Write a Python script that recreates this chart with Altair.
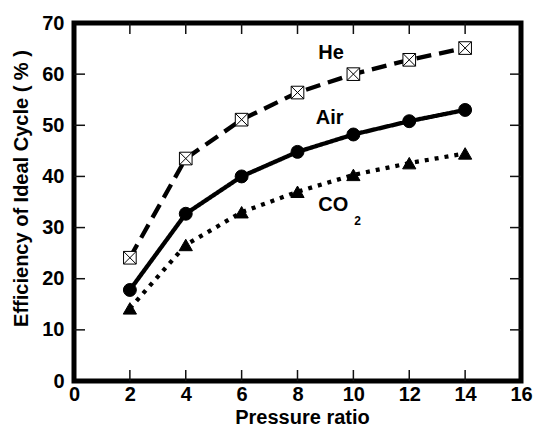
import altair as alt
import pandas as pd

pressure_ratio = [2, 4, 6, 8, 10, 12, 14]
he_eff = [24.1, 43.5, 51.1, 56.4, 60.0, 62.8, 65.1]
air_eff = [17.8, 32.7, 40.0, 44.8, 48.2, 50.8, 53.0]
co2_eff = [14.2, 26.6, 33.0, 37.0, 40.3, 42.6, 44.5]
series_names = ["He", "Air", "CO2"]

x_ticks = [2, 4, 6, 8, 10, 12, 14]
y_ticks = [10, 20, 30, 40, 50, 60]

label_text = ["He", "Air", "CO"]
label_x = [9.2, 9.15, 9.28]
label_y = [64.1, 51.4, 34.4]
sub_text = ["2"]
sub_x = [10.15]
sub_y = [31.3]

rows = []
for name, vals in zip(series_names, [he_eff, air_eff, co2_eff]):
    for xv, yv in zip(pressure_ratio, vals):
        rows.append({"series": name, "x": xv, "y": yv})
df = pd.DataFrame(rows)

W, H = 447, 358
FONT = "Liberation Sans"

xscale = alt.Scale(domain=[0, 16], nice=False, zero=False)
yscale = alt.Scale(domain=[0, 70], nice=False, zero=False)

xenc = alt.X("x:Q", scale=xscale, axis=alt.Axis(
    values=list(range(0, 17, 2)), title="Pressure ratio", grid=False, domain=False,
    tickSize=0, labelPadding=3, labelFlush=False, labelFont=FONT, labelFontSize=20,
    labelFontWeight="bold", labelColor="black", titleFont=FONT, titleFontSize=20,
    titleFontWeight="bold", titleColor="black", titleX=228, titleY=42,
    titleBaseline="alphabetic", titleAlign="center"))
yenc = alt.Y("y:Q", scale=yscale, axis=alt.Axis(
    values=list(range(0, 71, 10)), title="Efficiency of Ideal Cycle ( % )", grid=False,
    domain=False, tickSize=0, labelPadding=10, labelFont=FONT, labelFontSize=20,
    labelFontWeight="bold", labelColor="black", titleFont=FONT, titleFontSize=20,
    titleFontWeight="bold", titleColor="black", titleX=-47, titleY=165,
    titleBaseline="alphabetic", titleAlign="center", titleAngle=270))

base = alt.Chart(df)

lines = base.mark_line(color="black", strokeWidth=4.3, interpolate="linear", strokeCap="butt").encode(
    x=xenc, y=yenc,
    strokeDash=alt.StrokeDash("series:N", scale=alt.Scale(domain=series_names,
                              range=[[15, 8], [1, 0], [4, 6]]), legend=None),
    detail="series:N",
)

box_x = "M-1,-1L1,-1L1,1L-1,1Z M-1,-1L1,1 M1,-1L-1,1"
points = base.mark_point(stroke="black", strokeWidth=1, opacity=1, filled=False).encode(
    x="x:Q", y="y:Q",
    shape=alt.Shape("series:N", scale=alt.Scale(domain=series_names,
                    range=[box_x, "circle", "triangle-up"]), legend=None),
    fill=alt.Fill("series:N", scale=alt.Scale(domain=series_names,
                  range=["white", "black", "black"]), legend=None),
    size=alt.Size("series:N", scale=alt.Scale(domain=series_names,
                  range=[160, 175, 225]), legend=None),
)

xt = pd.DataFrame({"x": x_ticks})
yt = pd.DataFrame({"y": y_ticks})
tick_color = "#111111"
TL = 11
ticks_bottom = alt.Chart(xt).mark_rule(color=tick_color, strokeWidth=1.5).encode(
    x="x:Q", y=alt.value(H), y2=alt.value(H - TL))
ticks_top = alt.Chart(xt).mark_rule(color=tick_color, strokeWidth=1.5).encode(
    x="x:Q", y=alt.value(0), y2=alt.value(TL))
ticks_left = alt.Chart(yt).mark_rule(color=tick_color, strokeWidth=1.5).encode(
    y="y:Q", x=alt.value(0), x2=alt.value(TL))
ticks_right = alt.Chart(yt).mark_rule(color=tick_color, strokeWidth=1.5).encode(
    y="y:Q", x=alt.value(W), x2=alt.value(W - TL))

labels = alt.Chart(pd.DataFrame({"t": label_text, "x": label_x, "y": label_y})).mark_text(
    font=FONT, fontSize=20, fontWeight="bold", color="black", align="center", baseline="middle"
).encode(x="x:Q", y="y:Q", text="t:N")
sub = alt.Chart(pd.DataFrame({"t": sub_text, "x": sub_x, "y": sub_y})).mark_text(
    font=FONT, fontSize=12, fontWeight="bold", color="black", align="center", baseline="middle"
).encode(x="x:Q", y="y:Q", text="t:N")

chart = alt.layer(lines, points, ticks_bottom, ticks_top, ticks_left, ticks_right, labels, sub).properties(
    width=W, height=H,
    autosize=alt.AutoSizeParams(type="none"),
    padding={"left": 74, "top": 23, "right": 15, "bottom": 49},
    background="white",
).configure_view(stroke="black", strokeWidth=5)

chart.save("out.html", embed_options={"renderer": "svg", "actions": False})
